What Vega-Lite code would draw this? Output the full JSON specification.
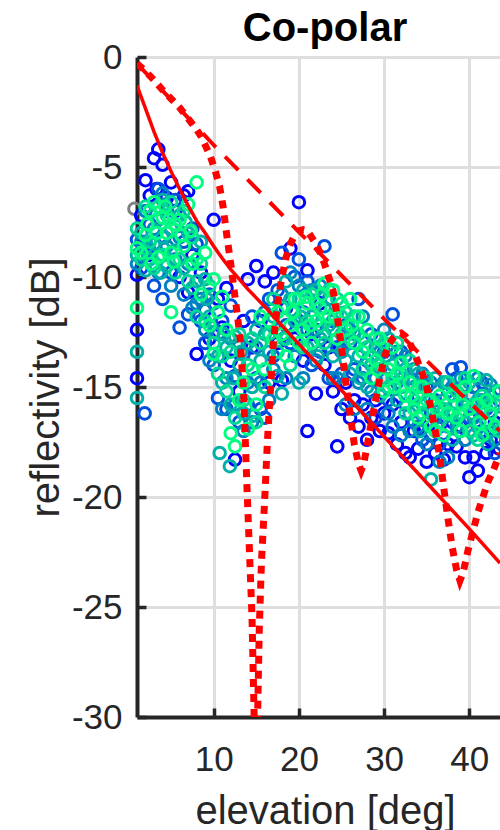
{
"$schema":"https://vega.github.io/schema/vega-lite/v6.json",
"autosize":{"type":"none"},
"padding":{"left":137,"top":57,"right":0,"bottom":113},
"width":363,"height":660,
"background":"#ffffff",
"title":{"text":"Co-polar","font":"Liberation Sans","fontSize":40,"fontWeight":"bold","color":"#000000","anchor":"middle","dx":6.5,"dy":55,"baseline":"alphabetic","offset":14},
"config":{"view":{"stroke":null},
"axis":{"domainColor":"#262626","domainWidth":4,"tickColor":"#262626","tickWidth":3.5,"tickSize":-9,"labelFont":"Liberation Sans","labelFontSize":35,"labelColor":"#262626","titleFont":"Liberation Sans","titleFontSize":40,"titleColor":"#262626","titleFontWeight":"normal","gridColor":"#dedede","gridWidth":3,"gridOpacity":1,"labelFlush":false,"labelOverlap":false,"labelExpr":"'' + datum.value"}},
"datasets":{
"pts":[
{"e":0.7,"r":-6.9,"s":"g"},
{"e":1,"r":-9.9,"s":"a"},{"e":1.5,"r":-7.2,"s":"a"},{"e":2,"r":-5.6,"s":"a"},{"e":2.5,"r":-6.3,"s":"a"},{"e":3,"r":-4.6,"s":"a"},{"e":3.5,"r":-4.2,"s":"a"},{"e":4,"r":-4.9,"s":"a"},{"e":4.5,"r":-6.4,"s":"a"},{"e":5,"r":-5.7,"s":"a"},{"e":5.5,"r":-7.0,"s":"a"},{"e":6,"r":-10.0,"s":"a"},{"e":6.5,"r":-6.3,"s":"a"},{"e":7,"r":-6.1,"s":"a"},{"e":7.5,"r":-9.0,"s":"a"},{"e":8,"r":-13.5,"s":"a"},{"e":8.5,"r":-9.8,"s":"a"},{"e":9,"r":-11.5,"s":"a"},{"e":9.5,"r":-12.8,"s":"a"},{"e":10,"r":-7.4,"s":"a"},{"e":10.5,"r":-11.0,"s":"a"},{"e":11,"r":-12.3,"s":"a"},{"e":11.5,"r":-10.5,"s":"a"},{"e":12,"r":-13.8,"s":"a"},{"e":12.5,"r":-18.3,"s":"a"},{"e":13,"r":-15.2,"s":"a"},{"e":13.5,"r":-12.0,"s":"a"},{"e":14,"r":-10.1,"s":"a"},{"e":14.5,"r":-13.2,"s":"a"},{"e":15,"r":-9.5,"s":"a"},{"e":15.5,"r":-12.0,"s":"a"},{"e":16,"r":-10.2,"s":"a"},{"e":16.5,"r":-14.8,"s":"a"},{"e":17,"r":-9.8,"s":"a"},{"e":17.5,"r":-13.0,"s":"a"},{"e":18,"r":-14.7,"s":"a"},{"e":18.5,"r":-11.4,"s":"a"},{"e":19,"r":-8.7,"s":"a"},{"e":19.5,"r":-12.8,"s":"a"},{"e":20,"r":-6.6,"s":"a"},{"e":20.5,"r":-13.8,"s":"a"},{"e":21,"r":-17.0,"s":"a"},{"e":21.5,"r":-12.6,"s":"a"},{"e":22,"r":-15.3,"s":"a"},{"e":22.5,"r":-11.2,"s":"a"},{"e":23,"r":-14.0,"s":"a"},{"e":23.5,"r":-13.2,"s":"a"},{"e":24,"r":-15.2,"s":"a"},{"e":24.5,"r":-17.7,"s":"a"},{"e":25,"r":-16.0,"s":"a"},{"e":25.5,"r":-14.8,"s":"a"},{"e":26,"r":-16.4,"s":"a"},{"e":26.5,"r":-15.6,"s":"a"},{"e":27,"r":-16.8,"s":"a"},{"e":27.5,"r":-15.8,"s":"a"},{"e":28,"r":-17.4,"s":"a"},{"e":28.5,"r":-16.4,"s":"a"},{"e":29,"r":-15.6,"s":"a"},{"e":29.5,"r":-17.0,"s":"a"},{"e":30,"r":-16.2,"s":"a"},{"e":30.5,"r":-17.1,"s":"a"},{"e":31,"r":-15.8,"s":"a"},{"e":31.5,"r":-17.6,"s":"a"},{"e":32,"r":-16.6,"s":"a"},{"e":32.5,"r":-18.0,"s":"a"},{"e":33,"r":-18.2,"s":"a"},{"e":33.5,"r":-17.0,"s":"a"},{"e":34,"r":-17.8,"s":"a"},{"e":34.5,"r":-16.8,"s":"a"},{"e":35,"r":-18.4,"s":"a"},{"e":35.5,"r":-17.2,"s":"a"},{"e":36,"r":-18.0,"s":"a"},{"e":36.5,"r":-16.8,"s":"a"},{"e":37,"r":-18.3,"s":"a"},{"e":37.5,"r":-17.6,"s":"a"},{"e":38,"r":-16.6,"s":"a"},{"e":38.5,"r":-17.7,"s":"a"},{"e":39,"r":-16.8,"s":"a"},{"e":39.5,"r":-18.2,"s":"a"},{"e":40,"r":-19.1,"s":"a"},{"e":40.5,"r":-18.2,"s":"a"},{"e":41,"r":-18.8,"s":"a"},{"e":41.5,"r":-17.0,"s":"a"},{"e":42,"r":-18.0,"s":"a"},{"e":42.5,"r":-17.4,"s":"a"},{"e":43,"r":-16.6,"s":"a"},{"e":43.5,"r":-17.8,"s":"a"},
{"e":1,"r":-12.4,"s":"a"},{"e":1,"r":-14.6,"s":"a"},{"e":7,"r":-10.7,"s":"a"},{"e":20,"r":-12.0,"s":"a"},{"e":21,"r":-9.7,"s":"a"},{"e":2.3,"r":-9.0,"s":"a"},{"e":4.2,"r":-8.2,"s":"a"},{"e":3.3,"r":-6.0,"s":"a"},
{"e":1,"r":-8.3,"s":"b"},{"e":1.5,"r":-9.6,"s":"b"},{"e":2,"r":-8.4,"s":"b"},{"e":2.5,"r":-7.6,"s":"b"},{"e":3,"r":-10.4,"s":"b"},{"e":3.5,"r":-6.0,"s":"b"},{"e":4,"r":-11.0,"s":"b"},{"e":4.5,"r":-7.0,"s":"b"},{"e":5,"r":-9.8,"s":"b"},{"e":5.5,"r":-6.5,"s":"b"},{"e":6,"r":-12.3,"s":"b"},{"e":6.5,"r":-8.4,"s":"b"},{"e":7,"r":-11.7,"s":"b"},{"e":7.5,"r":-7.8,"s":"b"},{"e":8,"r":-8.5,"s":"b"},{"e":8.5,"r":-12.0,"s":"b"},{"e":9,"r":-13.0,"s":"b"},{"e":9.5,"r":-10.8,"s":"b"},{"e":10,"r":-14.0,"s":"b"},{"e":10.5,"r":-15.5,"s":"b"},{"e":11,"r":-12.0,"s":"b"},{"e":11.5,"r":-16.0,"s":"b"},{"e":12,"r":-11.3,"s":"b"},{"e":12.5,"r":-14.5,"s":"b"},{"e":13,"r":-16.6,"s":"b"},{"e":13.5,"r":-13.5,"s":"b"},{"e":14,"r":-15.8,"s":"b"},{"e":14.5,"r":-11.8,"s":"b"},{"e":15,"r":-14.6,"s":"b"},{"e":15.5,"r":-16.0,"s":"b"},{"e":16,"r":-16.4,"s":"b"},{"e":16.5,"r":-11.0,"s":"b"},{"e":17,"r":-13.6,"s":"b"},{"e":17.5,"r":-10.6,"s":"b"},{"e":18,"r":-8.9,"s":"b"},{"e":18.5,"r":-12.2,"s":"b"},{"e":19,"r":-13.0,"s":"b"},{"e":19.5,"r":-10.0,"s":"b"},{"e":20,"r":-9.2,"s":"b"},{"e":20.5,"r":-11.6,"s":"b"},{"e":21,"r":-10.2,"s":"b"},{"e":21.5,"r":-14.0,"s":"b"},{"e":22,"r":-12.4,"s":"b"},{"e":22.5,"r":-13.4,"s":"b"},{"e":23,"r":-8.6,"s":"b"},{"e":23.5,"r":-14.6,"s":"b"},{"e":24,"r":-12.0,"s":"b"},{"e":24.5,"r":-13.2,"s":"b"},{"e":25,"r":-14.4,"s":"b"},{"e":25.5,"r":-12.2,"s":"b"},{"e":26,"r":-13.0,"s":"b"},{"e":26.5,"r":-14.2,"s":"b"},{"e":27,"r":-11.0,"s":"b"},{"e":27.5,"r":-14.6,"s":"b"},{"e":28,"r":-13.8,"s":"b"},{"e":28.5,"r":-12.6,"s":"b"},{"e":29,"r":-16.4,"s":"b"},{"e":29.5,"r":-14.2,"s":"b"},{"e":30,"r":-13.4,"s":"b"},{"e":30.5,"r":-15.6,"s":"b"},{"e":31,"r":-11.7,"s":"b"},{"e":31.5,"r":-14.8,"s":"b"},{"e":32,"r":-13.4,"s":"b"},{"e":32.5,"r":-15.8,"s":"b"},{"e":33,"r":-14.6,"s":"b"},{"e":33.5,"r":-16.6,"s":"b"},{"e":34,"r":-15.4,"s":"b"},{"e":34.5,"r":-17.4,"s":"b"},{"e":35,"r":-15.0,"s":"b"},{"e":35.5,"r":-16.2,"s":"b"},{"e":36,"r":-15.6,"s":"b"},{"e":36.5,"r":-17.6,"s":"b"},{"e":37,"r":-16.4,"s":"b"},{"e":37.5,"r":-15.2,"s":"b"},{"e":38,"r":-14.2,"s":"b"},{"e":38.5,"r":-14.6,"s":"b"},{"e":39,"r":-14.1,"s":"b"},{"e":39.5,"r":-15.8,"s":"b"},{"e":40,"r":-16.4,"s":"b"},{"e":40.5,"r":-15.0,"s":"b"},{"e":41,"r":-16.8,"s":"b"},{"e":41.5,"r":-14.8,"s":"b"},{"e":42,"r":-16.0,"s":"b"},{"e":42.5,"r":-15.4,"s":"b"},{"e":43,"r":-18.0,"s":"b"},{"e":43.5,"r":-15.6,"s":"b"},
{"e":1.9,"r":-16.2,"s":"b"},
{"e":1,"r":-9.4,"s":"e"},{"e":1.5,"r":-8.4,"s":"e"},{"e":2,"r":-7.0,"s":"e"},{"e":2.5,"r":-8.8,"s":"e"},{"e":3,"r":-7.8,"s":"e"},{"e":3.5,"r":-9.8,"s":"e"},{"e":4,"r":-6.2,"s":"e"},{"e":4.5,"r":-8.6,"s":"e"},{"e":5,"r":-10.4,"s":"e"},{"e":5.5,"r":-9.2,"s":"e"},{"e":6,"r":-8.2,"s":"e"},{"e":6.5,"r":-10.8,"s":"e"},{"e":7,"r":-9.4,"s":"e"},{"e":7.5,"r":-11.4,"s":"e"},{"e":8,"r":-11.2,"s":"e"},{"e":8.5,"r":-11.0,"s":"e"},{"e":9,"r":-12.4,"s":"e"},{"e":9.5,"r":-13.8,"s":"e"},{"e":10,"r":-11.2,"s":"e"},{"e":10.5,"r":-12.6,"s":"e"},{"e":11,"r":-16.0,"s":"e"},{"e":11.5,"r":-14.6,"s":"e"},{"e":12,"r":-12.8,"s":"e"},{"e":12.5,"r":-15.8,"s":"e"},{"e":13,"r":-13.0,"s":"e"},{"e":13.5,"r":-17.0,"s":"e"},{"e":14,"r":-14.8,"s":"e"},{"e":14.5,"r":-16.6,"s":"e"},{"e":15,"r":-13.2,"s":"e"},{"e":15.5,"r":-14.8,"s":"e"},{"e":16,"r":-11.6,"s":"e"},{"e":16.5,"r":-15.6,"s":"e"},{"e":17,"r":-14.2,"s":"e"},{"e":17.5,"r":-12.4,"s":"e"},{"e":18,"r":-10.8,"s":"e"},{"e":18.5,"r":-14.6,"s":"e"},{"e":19,"r":-9.8,"s":"e"},{"e":19.5,"r":-13.6,"s":"e"},{"e":20,"r":-10.4,"s":"e"},{"e":20.5,"r":-14.6,"s":"e"},{"e":21,"r":-12.4,"s":"e"},{"e":21.5,"r":-10.6,"s":"e"},{"e":22,"r":-13.8,"s":"e"},{"e":22.5,"r":-10.4,"s":"e"},{"e":23,"r":-12.6,"s":"e"},{"e":23.5,"r":-11.0,"s":"e"},{"e":24,"r":-14.6,"s":"e"},{"e":24.5,"r":-14.6,"s":"e"},{"e":25,"r":-13.4,"s":"e"},{"e":25.5,"r":-15.8,"s":"e"},{"e":26,"r":-12.4,"s":"e"},{"e":26.5,"r":-16.0,"s":"e"},{"e":27,"r":-14.8,"s":"e"},{"e":27.5,"r":-11.8,"s":"e"},{"e":28,"r":-16.0,"s":"e"},{"e":28.5,"r":-15.2,"s":"e"},{"e":29,"r":-14.6,"s":"e"},{"e":29.5,"r":-13.4,"s":"e"},{"e":30,"r":-12.4,"s":"e"},{"e":30.5,"r":-16.2,"s":"e"},{"e":31,"r":-16.8,"s":"e"},{"e":31.5,"r":-13.4,"s":"e"},{"e":32,"r":-17.2,"s":"e"},{"e":32.5,"r":-13.6,"s":"e"},{"e":33,"r":-17.0,"s":"e"},{"e":33.5,"r":-14.2,"s":"e"},{"e":34,"r":-16.8,"s":"e"},{"e":34.5,"r":-14.4,"s":"e"},{"e":35,"r":-17.6,"s":"e"},{"e":35.5,"r":-14.8,"s":"e"},{"e":36,"r":-16.4,"s":"e"},{"e":36.5,"r":-18.4,"s":"e"},{"e":37,"r":-14.8,"s":"e"},{"e":37.5,"r":-18.2,"s":"e"},{"e":38,"r":-15.0,"s":"e"},{"e":38.5,"r":-16.8,"s":"e"},{"e":39,"r":-14.6,"s":"e"},{"e":39.5,"r":-17.4,"s":"e"},{"e":40,"r":-15.4,"s":"e"},{"e":40.5,"r":-16.4,"s":"e"},{"e":41,"r":-14.6,"s":"e"},{"e":41.5,"r":-15.6,"s":"e"},{"e":42,"r":-17.2,"s":"e"},{"e":42.5,"r":-14.9,"s":"e"},{"e":43,"r":-17.4,"s":"e"},{"e":43.5,"r":-16.8,"s":"e"},
{"e":1,"r":-9.0,"s":"c"},{"e":1.5,"r":-8.0,"s":"c"},{"e":2,"r":-9.7,"s":"c"},{"e":2.5,"r":-9.2,"s":"c"},{"e":3,"r":-8.5,"s":"c"},{"e":3.5,"r":-7.4,"s":"c"},{"e":4,"r":-8.2,"s":"c"},{"e":4.5,"r":-9.5,"s":"c"},{"e":5,"r":-7.8,"s":"c"},{"e":5.5,"r":-8.8,"s":"c"},{"e":6,"r":-7.2,"s":"c"},{"e":6.5,"r":-9.6,"s":"c"},{"e":7,"r":-8.0,"s":"c"},{"e":7.5,"r":-10.5,"s":"c"},{"e":8,"r":-10.2,"s":"c"},{"e":8.5,"r":-8.4,"s":"c"},{"e":9,"r":-10.1,"s":"c"},{"e":9.5,"r":-11.8,"s":"c"},{"e":10,"r":-12.5,"s":"c"},{"e":10.5,"r":-13.6,"s":"c"},{"e":11,"r":-14.8,"s":"c"},{"e":11.5,"r":-13.2,"s":"c"},{"e":12,"r":-15.8,"s":"c"},{"e":12.5,"r":-12.7,"s":"c"},{"e":13,"r":-14.0,"s":"c"},{"e":13.5,"r":-16.2,"s":"c"},{"e":14,"r":-13.0,"s":"c"},{"e":14.5,"r":-15.0,"s":"c"},{"e":15,"r":-12.4,"s":"c"},{"e":15.5,"r":-13.8,"s":"c"},{"e":16,"r":-12.6,"s":"c"},{"e":16.5,"r":-13.4,"s":"c"},{"e":17,"r":-11.8,"s":"c"},{"e":17.5,"r":-14.5,"s":"c"},{"e":18,"r":-15.3,"s":"c"},{"e":18.5,"r":-10.2,"s":"c"},{"e":19,"r":-11.0,"s":"c"},{"e":19.5,"r":-12.0,"s":"c"},{"e":20,"r":-14.8,"s":"c"},{"e":20.5,"r":-10.6,"s":"c"},{"e":21,"r":-13.2,"s":"c"},{"e":21.5,"r":-11.8,"s":"c"},{"e":22,"r":-10.6,"s":"c"},{"e":22.5,"r":-12.8,"s":"c"},{"e":23,"r":-11.4,"s":"c"},{"e":23.5,"r":-12.2,"s":"c"},{"e":24,"r":-13.6,"s":"c"},{"e":24.5,"r":-11.6,"s":"c"},{"e":25,"r":-12.6,"s":"c"},{"e":25.5,"r":-13.8,"s":"c"},{"e":26,"r":-14.4,"s":"c"},{"e":26.5,"r":-12.6,"s":"c"},{"e":27,"r":-13.6,"s":"c"},{"e":27.5,"r":-12.8,"s":"c"},{"e":28,"r":-15.0,"s":"c"},{"e":28.5,"r":-14.0,"s":"c"},{"e":29,"r":-13.2,"s":"c"},{"e":29.5,"r":-15.4,"s":"c"},{"e":30,"r":-14.6,"s":"c"},{"e":30.5,"r":-12.8,"s":"c"},{"e":31,"r":-14.0,"s":"c"},{"e":31.5,"r":-15.6,"s":"c"},{"e":32,"r":-15.0,"s":"c"},{"e":32.5,"r":-14.2,"s":"c"},{"e":33,"r":-16.2,"s":"c"},{"e":33.5,"r":-15.0,"s":"c"},{"e":34,"r":-14.4,"s":"c"},{"e":34.5,"r":-15.8,"s":"c"},{"e":35,"r":-16.6,"s":"c"},{"e":35.5,"r":-19.2,"s":"c"},{"e":36,"r":-14.6,"s":"c"},{"e":36.5,"r":-16.0,"s":"c"},{"e":37,"r":-15.6,"s":"c"},{"e":37.5,"r":-16.8,"s":"c"},{"e":38,"r":-17.4,"s":"c"},{"e":38.5,"r":-15.8,"s":"c"},{"e":39,"r":-15.4,"s":"c"},{"e":39.5,"r":-16.6,"s":"c"},{"e":40,"r":-14.8,"s":"c"},{"e":40.5,"r":-17.2,"s":"c"},{"e":41,"r":-15.6,"s":"c"},{"e":41.5,"r":-16.2,"s":"c"},{"e":42,"r":-14.7,"s":"c"},{"e":42.5,"r":-17.0,"s":"c"},{"e":43,"r":-15.2,"s":"c"},{"e":43.5,"r":-16.4,"s":"c"},
{"e":1,"r":-13.4,"s":"c"},{"e":1,"r":-15.5,"s":"c"},{"e":10.7,"r":-18.0,"s":"c"},{"e":11.9,"r":-18.6,"s":"c"},{"e":2.2,"r":-8.6,"s":"c"},{"e":3.8,"r":-9.8,"s":"c"},{"e":5.2,"r":-8.4,"s":"c"},{"e":6.7,"r":-7.5,"s":"c"},{"e":4.0,"r":-6.5,"s":"c"},{"e":18.2,"r":-12.8,"s":"c"},{"e":20.2,"r":-11.8,"s":"c"},{"e":22.2,"r":-13.6,"s":"c"},{"e":25.2,"r":-13.2,"s":"c"},{"e":27.2,"r":-14.6,"s":"c"},{"e":30.2,"r":-13.6,"s":"c"},{"e":32.2,"r":-14.6,"s":"c"},{"e":34.2,"r":-17.0,"s":"c"},{"e":37.2,"r":-14.8,"s":"c"},{"e":40.2,"r":-16.2,"s":"c"},{"e":42.2,"r":-17.6,"s":"c"},{"e":13.2,"r":-13.4,"s":"c"},{"e":11.2,"r":-12.6,"s":"c"},{"e":9.2,"r":-11.0,"s":"c"},{"e":14.7,"r":-16.3,"s":"c"},{"e":12.3,"r":-14.6,"s":"c"},
{"e":1,"r":-7.8,"s":"f"},{"e":1.5,"r":-9.2,"s":"f"},{"e":2,"r":-6.8,"s":"f"},{"e":2.5,"r":-8.4,"s":"f"},{"e":3,"r":-9.6,"s":"f"},{"e":3.5,"r":-6.8,"s":"f"},{"e":4,"r":-9.0,"s":"f"},{"e":4.5,"r":-7.2,"s":"f"},{"e":5,"r":-6.6,"s":"f"},{"e":5.5,"r":-9.8,"s":"f"},{"e":6,"r":-9.2,"s":"f"},{"e":6.5,"r":-7.0,"s":"f"},{"e":7,"r":-10.2,"s":"f"},{"e":7.5,"r":-8.2,"s":"f"},{"e":8,"r":-11.8,"s":"f"},{"e":8.5,"r":-9.4,"s":"f"},{"e":9,"r":-12.0,"s":"f"},{"e":9.5,"r":-10.4,"s":"f"},{"e":10,"r":-13.0,"s":"f"},{"e":10.5,"r":-14.4,"s":"f"},{"e":11,"r":-13.6,"s":"f"},{"e":11.5,"r":-15.2,"s":"f"},{"e":12,"r":-13.4,"s":"f"},{"e":12.5,"r":-16.4,"s":"f"},{"e":13,"r":-12.6,"s":"f"},{"e":13.5,"r":-15.6,"s":"f"},{"e":14,"r":-14.0,"s":"f"},{"e":14.5,"r":-12.8,"s":"f"},{"e":15,"r":-16.6,"s":"f"},{"e":15.5,"r":-13.0,"s":"f"},{"e":16,"r":-15.0,"s":"f"},{"e":16.5,"r":-12.6,"s":"f"},{"e":17,"r":-11.0,"s":"f"},{"e":17.5,"r":-13.4,"s":"f"},{"e":18,"r":-11.4,"s":"f"},{"e":18.5,"r":-12.8,"s":"f"},{"e":19,"r":-14.0,"s":"f"},{"e":19.5,"r":-11.6,"s":"f"},{"e":20,"r":-11.0,"s":"f"},{"e":20.5,"r":-13.2,"s":"f"},{"e":21,"r":-12.0,"s":"f"},{"e":21.5,"r":-10.8,"s":"f"},{"e":22,"r":-11.2,"s":"f"},{"e":22.5,"r":-12.2,"s":"f"},{"e":23,"r":-13.0,"s":"f"},{"e":23.5,"r":-10.6,"s":"f"},{"e":24,"r":-12.4,"s":"f"},{"e":24.5,"r":-11.0,"s":"f"},{"e":25,"r":-11.8,"s":"f"},{"e":25.5,"r":-11.6,"s":"f"},{"e":26,"r":-12.8,"s":"f"},{"e":26.5,"r":-11.8,"s":"f"},{"e":27,"r":-12.6,"s":"f"},{"e":27.5,"r":-14.2,"s":"f"},{"e":28,"r":-13.2,"s":"f"},{"e":28.5,"r":-13.6,"s":"f"},{"e":29,"r":-12.8,"s":"f"},{"e":29.5,"r":-14.0,"s":"f"},{"e":30,"r":-13.0,"s":"f"},{"e":30.5,"r":-15.0,"s":"f"},{"e":31,"r":-14.6,"s":"f"},{"e":31.5,"r":-13.0,"s":"f"},{"e":32,"r":-14.4,"s":"f"},{"e":32.5,"r":-16.2,"s":"f"},{"e":33,"r":-13.8,"s":"f"},{"e":33.5,"r":-15.6,"s":"f"},{"e":34,"r":-15.0,"s":"f"},{"e":34.5,"r":-16.2,"s":"f"},{"e":35,"r":-14.6,"s":"f"},{"e":35.5,"r":-15.6,"s":"f"},{"e":36,"r":-15.8,"s":"f"},{"e":36.5,"r":-16.6,"s":"f"},{"e":37,"r":-16.0,"s":"f"},{"e":37.5,"r":-14.8,"s":"f"},{"e":38,"r":-16.2,"s":"f"},{"e":38.5,"r":-15.2,"s":"f"},{"e":39,"r":-16.2,"s":"f"},{"e":39.5,"r":-14.6,"s":"f"},{"e":40,"r":-17.0,"s":"f"},{"e":40.5,"r":-15.8,"s":"f"},{"e":41,"r":-17.4,"s":"f"},{"e":41.5,"r":-15.4,"s":"f"},{"e":42,"r":-16.6,"s":"f"},{"e":42.5,"r":-15.8,"s":"f"},{"e":43,"r":-15.8,"s":"f"},{"e":43.5,"r":-17.0,"s":"f"},
{"e":1,"r":-8.7,"s":"d"},{"e":1.5,"r":-8.9,"s":"d"},{"e":2,"r":-8.1,"s":"d"},{"e":2.5,"r":-7.0,"s":"d"},{"e":3,"r":-6.6,"s":"d"},{"e":3.5,"r":-9.1,"s":"d"},{"e":4,"r":-7.3,"s":"d"},{"e":4.5,"r":-8.0,"s":"d"},{"e":5,"r":-8.9,"s":"d"},{"e":5.5,"r":-7.6,"s":"d"},{"e":6,"r":-7.4,"s":"d"},{"e":6.5,"r":-8.6,"s":"d"},{"e":7,"r":-6.7,"s":"d"},{"e":7.5,"r":-9.4,"s":"d"},{"e":8,"r":-5.7,"s":"d"},{"e":8.5,"r":-10.8,"s":"d"},{"e":9,"r":-8.9,"s":"d"},{"e":9.5,"r":-12.2,"s":"d"},{"e":10,"r":-10.1,"s":"d"},{"e":10.5,"r":-11.6,"s":"d"},{"e":11,"r":-10.9,"s":"d"},{"e":11.5,"r":-12.4,"s":"d"},{"e":12,"r":-17.1,"s":"d"},{"e":12.5,"r":-17.7,"s":"d"},{"e":13,"r":-15.6,"s":"d"},{"e":13.5,"r":-14.8,"s":"d"},{"e":14,"r":-16.9,"s":"d"},{"e":14.5,"r":-14.2,"s":"d"},{"e":15,"r":-15.8,"s":"d"},{"e":15.5,"r":-11.8,"s":"d"},{"e":16,"r":-14.2,"s":"d"},{"e":16.5,"r":-12.0,"s":"d"},{"e":17,"r":-12.8,"s":"d"},{"e":17.5,"r":-11.6,"s":"d"},{"e":18,"r":-12.6,"s":"d"},{"e":18.5,"r":-13.6,"s":"d"},{"e":19,"r":-12.2,"s":"d"},{"e":19.5,"r":-11.0,"s":"d"},{"e":20,"r":-13.0,"s":"d"},{"e":20.5,"r":-12.4,"s":"d"},{"e":21,"r":-11.2,"s":"d"},{"e":21.5,"r":-13.0,"s":"d"},{"e":22,"r":-12.0,"s":"d"},{"e":22.5,"r":-11.4,"s":"d"},{"e":23,"r":-10.3,"s":"d"},{"e":23.5,"r":-11.8,"s":"d"},{"e":24,"r":-10.6,"s":"d"},{"e":24.5,"r":-12.8,"s":"d"},{"e":25,"r":-11.2,"s":"d"},{"e":25.5,"r":-12.4,"s":"d"},{"e":26,"r":-11.0,"s":"d"},{"e":26.5,"r":-13.0,"s":"d"},{"e":27,"r":-11.8,"s":"d"},{"e":27.5,"r":-13.4,"s":"d"},{"e":28,"r":-12.4,"s":"d"},{"e":28.5,"r":-14.6,"s":"d"},{"e":29,"r":-13.8,"s":"d"},{"e":29.5,"r":-12.8,"s":"d"},{"e":30,"r":-15.2,"s":"d"},{"e":30.5,"r":-14.2,"s":"d"},{"e":31,"r":-13.2,"s":"d"},{"e":31.5,"r":-14.4,"s":"d"},{"e":32,"r":-13.9,"s":"d"},{"e":32.5,"r":-15.4,"s":"d"},{"e":33,"r":-14.8,"s":"d"},{"e":33.5,"r":-16.0,"s":"d"},{"e":34,"r":-16.4,"s":"d"},{"e":34.5,"r":-15.0,"s":"d"},{"e":35,"r":-15.6,"s":"d"},{"e":35.5,"r":-16.8,"s":"d"},{"e":36,"r":-17.0,"s":"d"},{"e":36.5,"r":-15.4,"s":"d"},{"e":37,"r":-17.2,"s":"d"},{"e":37.5,"r":-16.2,"s":"d"},{"e":38,"r":-15.4,"s":"d"},{"e":38.5,"r":-16.4,"s":"d"},{"e":39,"r":-17.0,"s":"d"},{"e":39.5,"r":-15.0,"s":"d"},{"e":40,"r":-16.0,"s":"d"},{"e":40.5,"r":-14.5,"s":"d"},{"e":41,"r":-15.8,"s":"d"},{"e":41.5,"r":-17.2,"s":"d"},{"e":42,"r":-15.6,"s":"d"},{"e":42.5,"r":-16.2,"s":"d"},{"e":43,"r":-16.8,"s":"d"},{"e":43.5,"r":-15.2,"s":"d"},
{"e":1,"r":-11.4,"s":"d"},{"e":5,"r":-11.6,"s":"d"},{"e":8,"r":-9.2,"s":"d"},{"e":10,"r":-13.5,"s":"d"},{"e":2.2,"r":-7.6,"s":"d"},{"e":3.3,"r":-8.0,"s":"d"},{"e":4.3,"r":-6.8,"s":"d"},{"e":5.3,"r":-9.3,"s":"d"},{"e":6.2,"r":-8.1,"s":"d"},{"e":7.3,"r":-7.9,"s":"d"},{"e":2.7,"r":-9.4,"s":"d"},{"e":4.8,"r":-7.4,"s":"d"},{"e":19.2,"r":-11.6,"s":"d"},{"e":21.3,"r":-12.2,"s":"d"},{"e":22.7,"r":-10.8,"s":"d"},{"e":20.8,"r":-10.9,"s":"d"},{"e":24.2,"r":-11.8,"s":"d"},{"e":26.2,"r":-12.2,"s":"d"},{"e":29.2,"r":-14.2,"s":"d"},{"e":31.2,"r":-15.0,"s":"d"},{"e":33.2,"r":-15.4,"s":"d"},{"e":36.2,"r":-16.0,"s":"d"},{"e":39.2,"r":-15.8,"s":"d"},{"e":41.2,"r":-16.6,"s":"d"}
],
"solid":[{"e":1,"r":-1.3},{"e":2,"r":-2.35},{"e":3,"r":-3.4},{"e":4,"r":-4.35},{"e":5,"r":-5.2},{"e":6,"r":-6.0},{"e":7,"r":-6.75},{"e":8,"r":-7.45},{"e":9,"r":-8.0},{"e":10,"r":-8.6},{"e":11,"r":-9.15},{"e":12,"r":-9.65},{"e":13,"r":-10.1},{"e":14,"r":-10.55},{"e":15,"r":-10.95},{"e":16,"r":-11.35},{"e":17.4,"r":-11.95},{"e":20,"r":-13.05},{"e":25,"r":-15.15},{"e":30,"r":-17.25},{"e":35,"r":-19.35},{"e":40,"r":-21.45},{"e":43.6,"r":-23.0}],
"dash":[{"e":1,"r":-0.3},{"e":10,"r":-4.0},{"e":20,"r":-7.95},{"e":30,"r":-11.9},{"e":40,"r":-15.7},{"e":43.6,"r":-17.0}],
"dot":[{"e":1,"r":-0.3},{"e":2,"r":-0.65},{"e":3,"r":-1.05},{"e":4,"r":-1.5},{"e":5,"r":-1.9},{"e":6,"r":-2.3},{"e":7,"r":-2.8},{"e":8,"r":-3.3},{"e":8.5,"r":-3.6},{"e":9,"r":-4.0},{"e":9.6,"r":-4.5},{"e":10.2,"r":-5.2},{"e":10.7,"r":-5.9},{"e":11.1,"r":-6.8},{"e":11.5,"r":-8.0},{"e":12,"r":-9.4},{"e":12.4,"r":-10.6},{"e":12.8,"r":-11.8},{"e":13.1,"r":-12.8},{"e":13.5,"r":-15.2},{"e":13.9,"r":-19.5},{"e":14.2,"r":-22.5},{"e":14.5,"r":-25.5},{"e":14.75,"r":-30},{"e":14.85,"r":-33},{"e":15.05,"r":-33},{"e":15.15,"r":-30},{"e":15.35,"r":-26},{"e":15.6,"r":-23},{"e":16.0,"r":-20},{"e":16.3,"r":-17.5},{"e":16.6,"r":-15.5},{"e":17,"r":-13},{"e":17.5,"r":-11.2},{"e":18,"r":-10.0},{"e":18.5,"r":-9.1},{"e":19,"r":-8.5},{"e":19.5,"r":-8.1},{"e":20,"r":-7.9},{"e":20.5,"r":-7.85},{"e":21,"r":-7.9},{"e":21.5,"r":-8.2},{"e":22,"r":-8.5},{"e":22.5,"r":-8.9},{"e":23,"r":-9.4},{"e":23.5,"r":-10.0},{"e":24,"r":-10.6},{"e":24.5,"r":-11.8},{"e":25,"r":-13.2},{"e":25.5,"r":-14.8},{"e":26,"r":-16.2},{"e":26.5,"r":-17.6},{"e":27,"r":-18.5},{"e":27.3,"r":-18.8},{"e":27.6,"r":-18.5},{"e":28,"r":-17.7},{"e":28.5,"r":-16.6},{"e":29,"r":-15.6},{"e":29.5,"r":-14.6},{"e":30,"r":-13.7},{"e":30.5,"r":-13.1},{"e":31,"r":-12.8},{"e":31.5,"r":-12.6},{"e":32,"r":-12.55},{"e":32.5,"r":-12.7},{"e":33,"r":-13.0},{"e":33.5,"r":-13.4},{"e":34,"r":-13.9},{"e":34.5,"r":-14.4},{"e":35,"r":-15.0},{"e":35.5,"r":-16.0},{"e":36,"r":-17.0},{"e":36.5,"r":-18.1},{"e":37,"r":-19.6},{"e":37.5,"r":-21.0},{"e":38,"r":-22.3},{"e":38.5,"r":-23.3},{"e":38.9,"r":-23.8},{"e":39.3,"r":-23.4},{"e":39.8,"r":-22.5},{"e":40.4,"r":-21.6},{"e":41,"r":-20.7},{"e":41.6,"r":-20.0},{"e":42.2,"r":-19.3},{"e":42.8,"r":-18.8},{"e":43.6,"r":-18.0}]
},
"layer":[
{"data":{"name":"pts"},
"mark":{"type":"point","shape":"circle","filled":false,"strokeWidth":3,"size":135,"opacity":1},
"encoding":{
"x":{"field":"e","type":"quantitative","scale":{"domain":[1,43.6],"nice":false,"zero":false},
"axis":{"values":[10,20,30,40],"title":"elevation [deg]","titleX":188,"titleY":106,"titleBaseline":"alphabetic","labelBaseline":"alphabetic","labelPadding":62,"grid":true}},
"y":{"field":"r","type":"quantitative","scale":{"domain":[-30,0],"nice":false,"zero":false},
"axis":{"values":[-30,-25,-20,-15,-10,-5,0],"title":"reflectivity [dB]","titleX":-79,"titleY":330,"titleAngle":-90,"titleBaseline":"alphabetic","labelPadding":24,"grid":true}},
"color":{"field":"s","type":"nominal","scale":{"domain":["g","a","b","e","c","f","d"],"range":["#808080","#0000ff","#0050e0","#0082c2","#00b0a8","#00d894","#00ff80"]},"legend":null}}},
{"data":{"name":"solid"},"mark":{"type":"line","color":"#ff0000","strokeWidth":3.5,"clip":true},
"encoding":{"x":{"field":"e","type":"quantitative"},"y":{"field":"r","type":"quantitative"}}},
{"data":{"name":"dash"},"mark":{"type":"line","color":"#ff0000","strokeWidth":4,"strokeDash":[19,13],"clip":true},
"encoding":{"x":{"field":"e","type":"quantitative"},"y":{"field":"r","type":"quantitative"}}},
{"data":{"name":"dot"},"mark":{"type":"line","color":"#ff0000","strokeWidth":7,"strokeDash":[8,7],"strokeCap":"butt","clip":true},
"encoding":{"x":{"field":"e","type":"quantitative"},"y":{"field":"r","type":"quantitative"}}}
]
}
